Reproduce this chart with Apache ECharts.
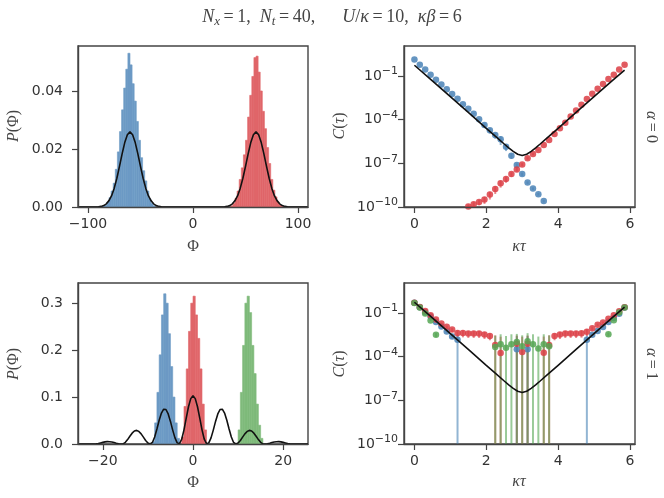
<!DOCTYPE html>
<html>
<head>
<meta charset="utf-8">
<script src="https://cdn.jsdelivr.net/npm/echarts@6/dist/echarts.min.js"></script>
<style>html,body{margin:0;padding:0;background:#fff;}#c{width:664px;height:498px;}</style>
</head>
<body>
<div id="c"></div>
<script>
// ---------- DATA ----------
// alpha = 0 : histograms of Phi (bin width 2)
const histBinW0 = 2;
const histBlueX0 = [-85,-83,-81,-79,-77,-75,-73,-71,-69,-67,-65,-63,-61,-59,-57,-55,-53,-51,-49,-47,-45,-43,-41,-39,-37];
const histBlueY0 = [0.0002,0.0006,0.0017,0.0032,0.0055,0.0082,0.0130,0.0190,0.0260,0.0335,0.0410,0.0475,0.0530,0.0490,0.0425,0.0365,0.0295,0.0230,0.0170,0.0125,0.0090,0.0055,0.0028,0.0012,0.0004];
const histRedX0 = [37,39,41,43,45,47,49,51,53,55,57,59,61,63,65,67,69,71,73,75,77,79,81,83,85];
const histRedY0 = [0.0004,0.0012,0.0030,0.0055,0.0095,0.0135,0.0180,0.0230,0.0310,0.0385,0.0450,0.0515,0.0520,0.0465,0.0400,0.0330,0.0270,0.0205,0.0150,0.0095,0.0058,0.0035,0.0018,0.0007,0.0002];
// exact distribution curve, alpha = 0
const curvePhi0 = [-109,-95,-90,-87.5,-85,-82.5,-80,-77.5,-75,-72.5,-70,-67.5,-65,-62.5,-60,-57.5,-55,-52.5,-50,-47.5,-45,-42.5,-40,-37.5,-35,-32.5,-30,-25,0,25,30,32.5,35,37.5,40,42.5,45,47.5,50,52.5,55,57.5,60,62.5,65,67.5,70,72.5,75,77.5,80,82.5,85,87.5,90,95,109];
const curveP0 = [0,0,0.0001,0.0002,0.0005,0.0011,0.0022,0.0039,0.0065,0.0099,0.0140,0.0183,0.0222,0.0249,0.0259,0.0249,0.0222,0.0183,0.0140,0.0099,0.0065,0.0039,0.0022,0.0011,0.0005,0.0002,0.0001,0,0,0,0.0001,0.0002,0.0005,0.0011,0.0022,0.0039,0.0065,0.0099,0.0140,0.0183,0.0222,0.0249,0.0259,0.0249,0.0222,0.0183,0.0140,0.0099,0.0065,0.0039,0.0022,0.0011,0.0005,0.0002,0.0001,0,0];

// alpha = 1 : histograms of Phi (bin width 0.5)
const histBinW1 = 0.5;
const histBlueX1 = [-8.75,-8.25,-7.75,-7.25,-6.75,-6.25,-5.75,-5.25,-4.75,-4.25,-3.75,-3.25];
const histBlueY1 = [0.005,0.045,0.110,0.190,0.275,0.320,0.300,0.235,0.165,0.100,0.045,0.012];
const histRedX1 = [-2.25,-1.75,-1.25,-0.75,-0.25,0.25,0.75,1.25,1.75,2.25,2.75];
const histRedY1 = [0.015,0.080,0.160,0.240,0.300,0.315,0.275,0.225,0.160,0.085,0.030];
const histGreenX1 = [10.25,10.75,11.25,11.75,12.25,12.75,13.25,13.75,14.25,14.75,15.25];
const histGreenY1 = [0.030,0.110,0.210,0.300,0.315,0.280,0.210,0.150,0.085,0.040,0.012];
const curvePhi1 = [-25.5,-22.5,-22,-21.5,-21,-20.5,-20,-19.5,-19,-18.5,-18,-17.5,-17,-16.5,-16,-15.5,-15,-14.5,-14,-13.5,-13,-12.5,-12,-11.5,-11,-10.5,-10,-9.5,-9,-8.5,-8,-7.5,-7,-6.5,-6,-5.5,-5,-4.5,-4,-3.5,-3,-2.5,-2,-1.5,-1,-0.5,0,0.5,1,1.5,2,2.5,3,3.5,4,4.5,5,5.5,6,6.5,7,7.5,8,8.5,9,9.5,10,10.5,11,11.5,12,12.5,13,13.5,14,14.5,15,15.5,16,16.5,17,17.5,18,18.5,19,19.5,20,20.5,21,21.5,22,22.5,25.5];
const curveP1 = [0,0,0,0.0003,0.0011,0.0023,0.0035,0.0045,0.0050,0.0048,0.0042,0.0030,0.0018,0.0007,0.0001,0.0003,0.0035,0.0094,0.0165,0.0231,0.0277,0.0290,0.0267,0.0215,0.0146,0.0076,0.0023,0,0.0033,0.0149,0.0320,0.0505,0.0658,0.0741,0.0735,0.0641,0.0481,0.0296,0.0131,0.0024,0.0005,0.0102,0.0301,0.0551,0.0793,0.0967,0.1030,0.0967,0.0793,0.0551,0.0301,0.0102,0.0005,0.0024,0.0131,0.0296,0.0481,0.0641,0.0735,0.0741,0.0658,0.0505,0.0320,0.0149,0.0033,0,0.0023,0.0076,0.0146,0.0215,0.0267,0.0290,0.0277,0.0231,0.0165,0.0094,0.0035,0.0003,0.0001,0.0007,0.0018,0.0030,0.0042,0.0048,0.0050,0.0045,0.0035,0.0023,0.0011,0.0003,0,0,0];

// correlators: kappa*tau grid
const tau = [0,0.15,0.3,0.45,0.6,0.75,0.9,1.05,1.2,1.35,1.5,1.65,1.8,1.95,2.1,2.25,2.4,2.55,2.7,2.85,3,3.15,3.3,3.45,3.6,3.75,3.9,4.05,4.2,4.35,4.5,4.65,4.8,4.95,5.1,5.25,5.4,5.55,5.7,5.85];
// log10 C(tau) and relative errors, alpha = 0
const blueLog0 = [0.12,-0.23,-0.57,-0.92,-1.26,-1.60,-1.92,-2.25,-2.57,-2.94,-3.26,-3.60,-3.97,-4.38,-4.74,-5.06,-5.35,-5.86,-6.48,-7.12,-7.74,-8.32,-8.73,-9.12,-9.59,null,null,null,null,null,null,null,null,null,null,null,null,null,null,null];
const blueRel0 = [0.02,0.02,0.02,0.02,0.02,0.02,0.02,0.03,0.03,0.04,0.05,0.06,0.1,0.3,0.4,0.45,0.6,0.5,0.4,0.3,0.25,0.2,0.2,0.2,0.2,null,null,null,null,null,null,null,null,null,null,null,null,null,null,null];
const redLog0 = [null,null,null,null,null,null,null,null,null,null,-9.97,-9.81,-9.66,-9.49,-9.14,-8.76,-8.37,-8.07,-7.74,-7.42,-7.08,-6.66,-6.37,-6.09,-5.74,-5.40,-4.99,-4.59,-4.21,-3.79,-3.38,-2.99,-2.59,-2.23,-1.88,-1.56,-1.21,-0.92,-0.57,-0.23];
const redRel0 = [null,null,null,null,null,null,null,null,null,null,0.4,0.4,0.4,0.5,0.55,0.55,0.5,0.45,0.35,0.3,0.25,0.2,0.15,0.1,0.05,0.05,0.05,0.05,0.05,0.03,0.03,0.03,0.03,0.03,0.03,0.03,0.03,0.03,0.03,0.03];
// exact correlator (log10), shared by both panels
const exactTau = [0,0.5,1,1.5,2,2.25,2.5,2.625,2.75,2.875,3,3.125,3.25,3.375,3.5,3.75,4,4.5,5,5.5,5.85];
const exactLog = [-0.27,-1.35,-2.43,-3.51,-4.60,-5.14,-5.675,-5.94,-6.18,-6.38,-6.46,-6.38,-6.18,-5.94,-5.675,-5.14,-4.60,-3.51,-2.43,-1.35,-0.60];
// alpha = 1
const blueLog1 = [-0.30,-0.62,-0.95,-1.25,-1.62,-1.94,-2.28,-2.63,-2.85,null,null,null,null,null,null,null,null,null,null,-3.50,null,-3.50,null,null,null,null,null,null,null,null,null,null,-2.85,-2.50,-2.24,-1.97,-1.62,-1.36,-1.06,-0.64];
const blueRel1 = [0.02,0.03,0.04,0.05,0.08,0.1,0.15,0.25,1.0,null,null,null,null,null,null,null,null,null,null,7,null,7,null,null,null,null,null,null,null,null,null,null,1.0,0.25,0.15,0.1,0.08,0.05,0.04,0.03];
const redLog1 = [-0.30,-0.60,-0.87,-1.16,-1.46,-1.73,-1.96,-2.15,-2.38,-2.38,-2.42,-2.42,-2.42,-2.49,-2.58,-3.20,-3.75,null,null,-3.12,-3.68,-3.12,null,null,-3.74,-3.20,-2.58,-2.49,-2.42,-2.42,-2.42,-2.40,-2.30,-2.05,-1.82,-1.66,-1.40,-1.16,-0.89,-0.62];
const redRel1 = [0.02,0.03,0.05,0.08,0.1,0.15,0.2,0.3,0.5,0.5,0.5,0.5,0.5,0.5,0.5,3.5,12,null,null,2.7,10,2.7,null,null,12,3.5,0.5,0.5,0.5,0.5,0.5,0.5,0.5,0.3,0.2,0.15,0.1,0.08,0.05,0.03];
const greenLog1 = [-0.32,-0.64,-1.05,-1.52,-2.50,null,null,null,null,null,null,null,null,null,null,-3.34,-3.15,-3.40,-3.15,-3.00,-3.29,-2.95,-3.15,-3.44,-3.15,-3.29,null,null,null,null,null,null,null,null,null,null,-2.47,-1.51,-0.98,-0.64];
const greenRel1 = [0.02,0.03,0.05,0.1,0.3,null,null,null,null,null,null,null,null,null,null,5,3.8,5.5,3.8,2.6,4.6,2.6,3.8,5.5,3.8,4.6,null,null,null,null,null,null,null,null,null,null,0.3,0.1,0.05,0.03];

// tick labels
const ticksPhi0 = [-100,0,100];
const ticksP0 = [0,0.02,0.04];
const ticksPhi1 = [-20,0,20];
const ticksP1 = [0,0.1,0.2,0.3];
const ticksTau = [0,2,4,6];
const ticksLogC = [-10,-7,-4,-1];

// ---------- STYLE ----------
const C = {
  blueHist:'#6c9ac5', redHist:'#e0666a', greenHist:'#7fba7b',
  blue:'#4a83b6', red:'#dc3e45', green:'#55a653', black:'#111'
};
const axisCol = '#444';
const labelFont = {color:'#333', fontFamily:'DejaVu Sans', fontSize:14};
const minus = v => (v < 0 ? '\u2212' + (-v) : String(v));

function xAxis(gi, min, max, ticks, fmt) {
  return {gridIndex:gi, type:'value', min, max, z:10,
    axisLine:{show:true, onZero:false, lineStyle:{color:axisCol, width:1.4}},
    axisTick:{show:true, length:6, customValues:ticks, lineStyle:{color:axisCol, width:1.2}},
    axisLabel:Object.assign({margin:10, customValues:ticks, formatter:fmt}, labelFont),
    splitLine:{show:false}};
}
function yAxis(gi, min, max, ticks, fmt, margin, rich) {
  const lab = Object.assign({margin, customValues:ticks, formatter:fmt}, labelFont);
  if (rich) lab.rich = rich;
  return {gridIndex:gi, type:'value', min, max, z:10,
    axisLine:{show:true, onZero:false, lineStyle:{color:axisCol, width:1.4}},
    axisTick:{show:true, length:6, customValues:ticks, lineStyle:{color:axisCol, width:1.2}},
    axisLabel:lab, splitLine:{show:false}};
}
const logRich = {
  b:{fontFamily:'DejaVu Sans', fontSize:14, color:'#333', lineHeight:20},
  s:{fontFamily:'DejaVu Sans', fontSize:11, color:'#333', lineHeight:12, verticalAlign:'top'}
};
const logFmt = v => '{b|10}{s|\u2212' + (-v) + '}';

function hist(xi, centers, heights, w, color) {
  return {type:'custom', xAxisIndex:xi, yAxisIndex:xi, clip:true, silent:true, z:2,
    data: centers.map((c,i)=>[c, heights[i]]),
    encode:{x:0, y:1},
    renderItem:(p, api)=>{
      const c = api.value(0), h = api.value(1);
      const a = api.coord([c - w/2, h]);
      const b = api.coord([c + w/2, 0]);
      return {type:'rect', shape:{x:a[0], y:a[1], width:b[0]-a[0], height:b[1]-a[1]},
        style:{fill:color, stroke:color, lineWidth:0.6}};
    }};
}
function curve(xi, xs, ys) {
  return {type:'line', xAxisIndex:xi, yAxisIndex:xi, showSymbol:false, symbol:'none', z:5, silent:true,
    data: xs.map((x,i)=>[x, ys[i]]), lineStyle:{color:C.black, width:1.6}};
}
function errbars(xi, L, R, color) {
  const d = [];
  tau.forEach((t,i)=>{
    if (L[i] == null || R[i] == null) return;
    const lo = R[i] >= 1 ? -10 : Math.max(-10, L[i] + Math.log10(1 - R[i]));
    const hi = L[i] + Math.log10(1 + R[i]);
    d.push([t, lo, hi]);
  });
  return {type:'custom', xAxisIndex:xi, yAxisIndex:xi, clip:true, silent:true, z:3,
    data:d, encode:{x:0, y:[1,2]},
    renderItem:(p, api)=>{
      const a = api.coord([api.value(0), api.value(1)]);
      const b = api.coord([api.value(0), api.value(2)]);
      return {type:'line', shape:{x1:a[0], y1:a[1], x2:b[0], y2:b[1]},
        style:{stroke:color, lineWidth:2, opacity:0.6}};
    }};
}
function points(xi, L, color) {
  const d = [];
  tau.forEach((t,i)=>{ if (L[i] != null) d.push([t, L[i]]); });
  return {type:'scatter', xAxisIndex:xi, yAxisIndex:xi, clip:true, silent:true, z:4,
    symbolSize:6.5, data:d, itemStyle:{color, opacity:0.85}};
}

const serif = 'Liberation Serif';
function mathRich(fs) {
  return {
    i:{fontFamily:serif, fontStyle:'italic', fontSize:fs, fill:'#444', lineHeight:22},
    n:{fontFamily:serif, fontSize:fs, fill:'#444', lineHeight:22},
    s:{fontFamily:serif, fontStyle:'italic', fontSize:Math.round(fs*0.7), fill:'#444', lineHeight:12, verticalAlign:'bottom'}
  };
}
function mtext(x, y, text, rot, fs) {
  return {type:'text', x, y, rotation:rot||0, silent:true,
    style:{text, rich:mathRich(fs||16), align:'center', verticalAlign:'middle'}};
}

const option = {
  animation:false,
  backgroundColor:'#fff',
  grid:[
    {left:78, top:46, width:230, height:161, show:true, borderColor:axisCol, borderWidth:1.4, backgroundColor:'transparent'},
    {left:404, top:46, width:231, height:161, show:true, borderColor:axisCol, borderWidth:1.4, backgroundColor:'transparent'},
    {left:78, top:283, width:230, height:161, show:true, borderColor:axisCol, borderWidth:1.4, backgroundColor:'transparent'},
    {left:404, top:283, width:231, height:161, show:true, borderColor:axisCol, borderWidth:1.4, backgroundColor:'transparent'}
  ],
  xAxis:[
    xAxis(0, -109.5, 109.5, ticksPhi0, minus),
    xAxis(1, -0.29, 6.14, ticksTau, v=>String(v)),
    xAxis(2, -25.5, 25.5, ticksPhi1, minus),
    xAxis(3, -0.29, 6.14, ticksTau, v=>String(v))
  ],
  yAxis:[
    yAxis(0, 0, 0.0555, ticksP0, v=>v.toFixed(2), 15),
    yAxis(1, -10, 1.05, ticksLogC, logFmt, 6, logRich),
    yAxis(2, 0, 0.343, ticksP1, v=>v.toFixed(1), 15),
    yAxis(3, -10, 1.05, ticksLogC, logFmt, 6, logRich)
  ],
  series:[
    hist(0, histBlueX0, histBlueY0, histBinW0, C.blueHist),
    hist(0, histRedX0, histRedY0, histBinW0, C.redHist),
    curve(0, curvePhi0, curveP0),
    curve(1, exactTau, exactLog),
    errbars(1, blueLog0, blueRel0, C.blue),
    points(1, blueLog0, C.blue),
    errbars(1, redLog0, redRel0, C.red),
    points(1, redLog0, C.red),
    hist(2, histBlueX1, histBlueY1, histBinW1, C.blueHist),
    hist(2, histRedX1, histRedY1, histBinW1, C.redHist),
    hist(2, histGreenX1, histGreenY1, histBinW1, C.greenHist),
    curve(2, curvePhi1, curveP1),
    curve(3, exactTau, exactLog),
    errbars(3, blueLog1, blueRel1, C.blue),
    errbars(3, redLog1, redRel1, C.red),
    errbars(3, greenLog1, greenRel1, C.green),
    points(3, blueLog1, C.blue),
    points(3, redLog1, C.red),
    points(3, greenLog1, C.green)
  ],
  graphic:[
    mtext(332, 17, '{i|N}{s|x}{n|\u2009=\u20091,\u2002}{i|N}{s|t}{n|\u2009=\u200940,\u2003\u2002}{i|U}{n|/}{i|\u03ba}{n|\u2009=\u200910,\u2002}{i|\u03ba\u03b2}{n|\u2009=\u20096}', 0, 18),
    mtext(14, 126, '{i|P}{n|(\u03a6)}', Math.PI/2),
    mtext(14, 364, '{i|P}{n|(\u03a6)}', Math.PI/2),
    mtext(193, 247, '{n|\u03a6}'),
    mtext(193, 483, '{n|\u03a6}'),
    mtext(340, 126, '{i|C}{n|(}{i|\u03c4}{n|)}', Math.PI/2),
    mtext(340, 364, '{i|C}{n|(}{i|\u03c4}{n|)}', Math.PI/2),
    mtext(519, 247, '{i|\u03ba\u03c4}'),
    mtext(519, 482, '{i|\u03ba\u03c4}'),
    mtext(651, 127, '{i|\u03b1}{n|\u2009=\u20090}', -Math.PI/2),
    mtext(651, 364, '{i|\u03b1}{n|\u2009=\u20091}', -Math.PI/2)
  ]
};
const chart = echarts.init(document.getElementById('c'), null, {renderer:'canvas'});
chart.setOption(option);
</script>
</body>
</html>
